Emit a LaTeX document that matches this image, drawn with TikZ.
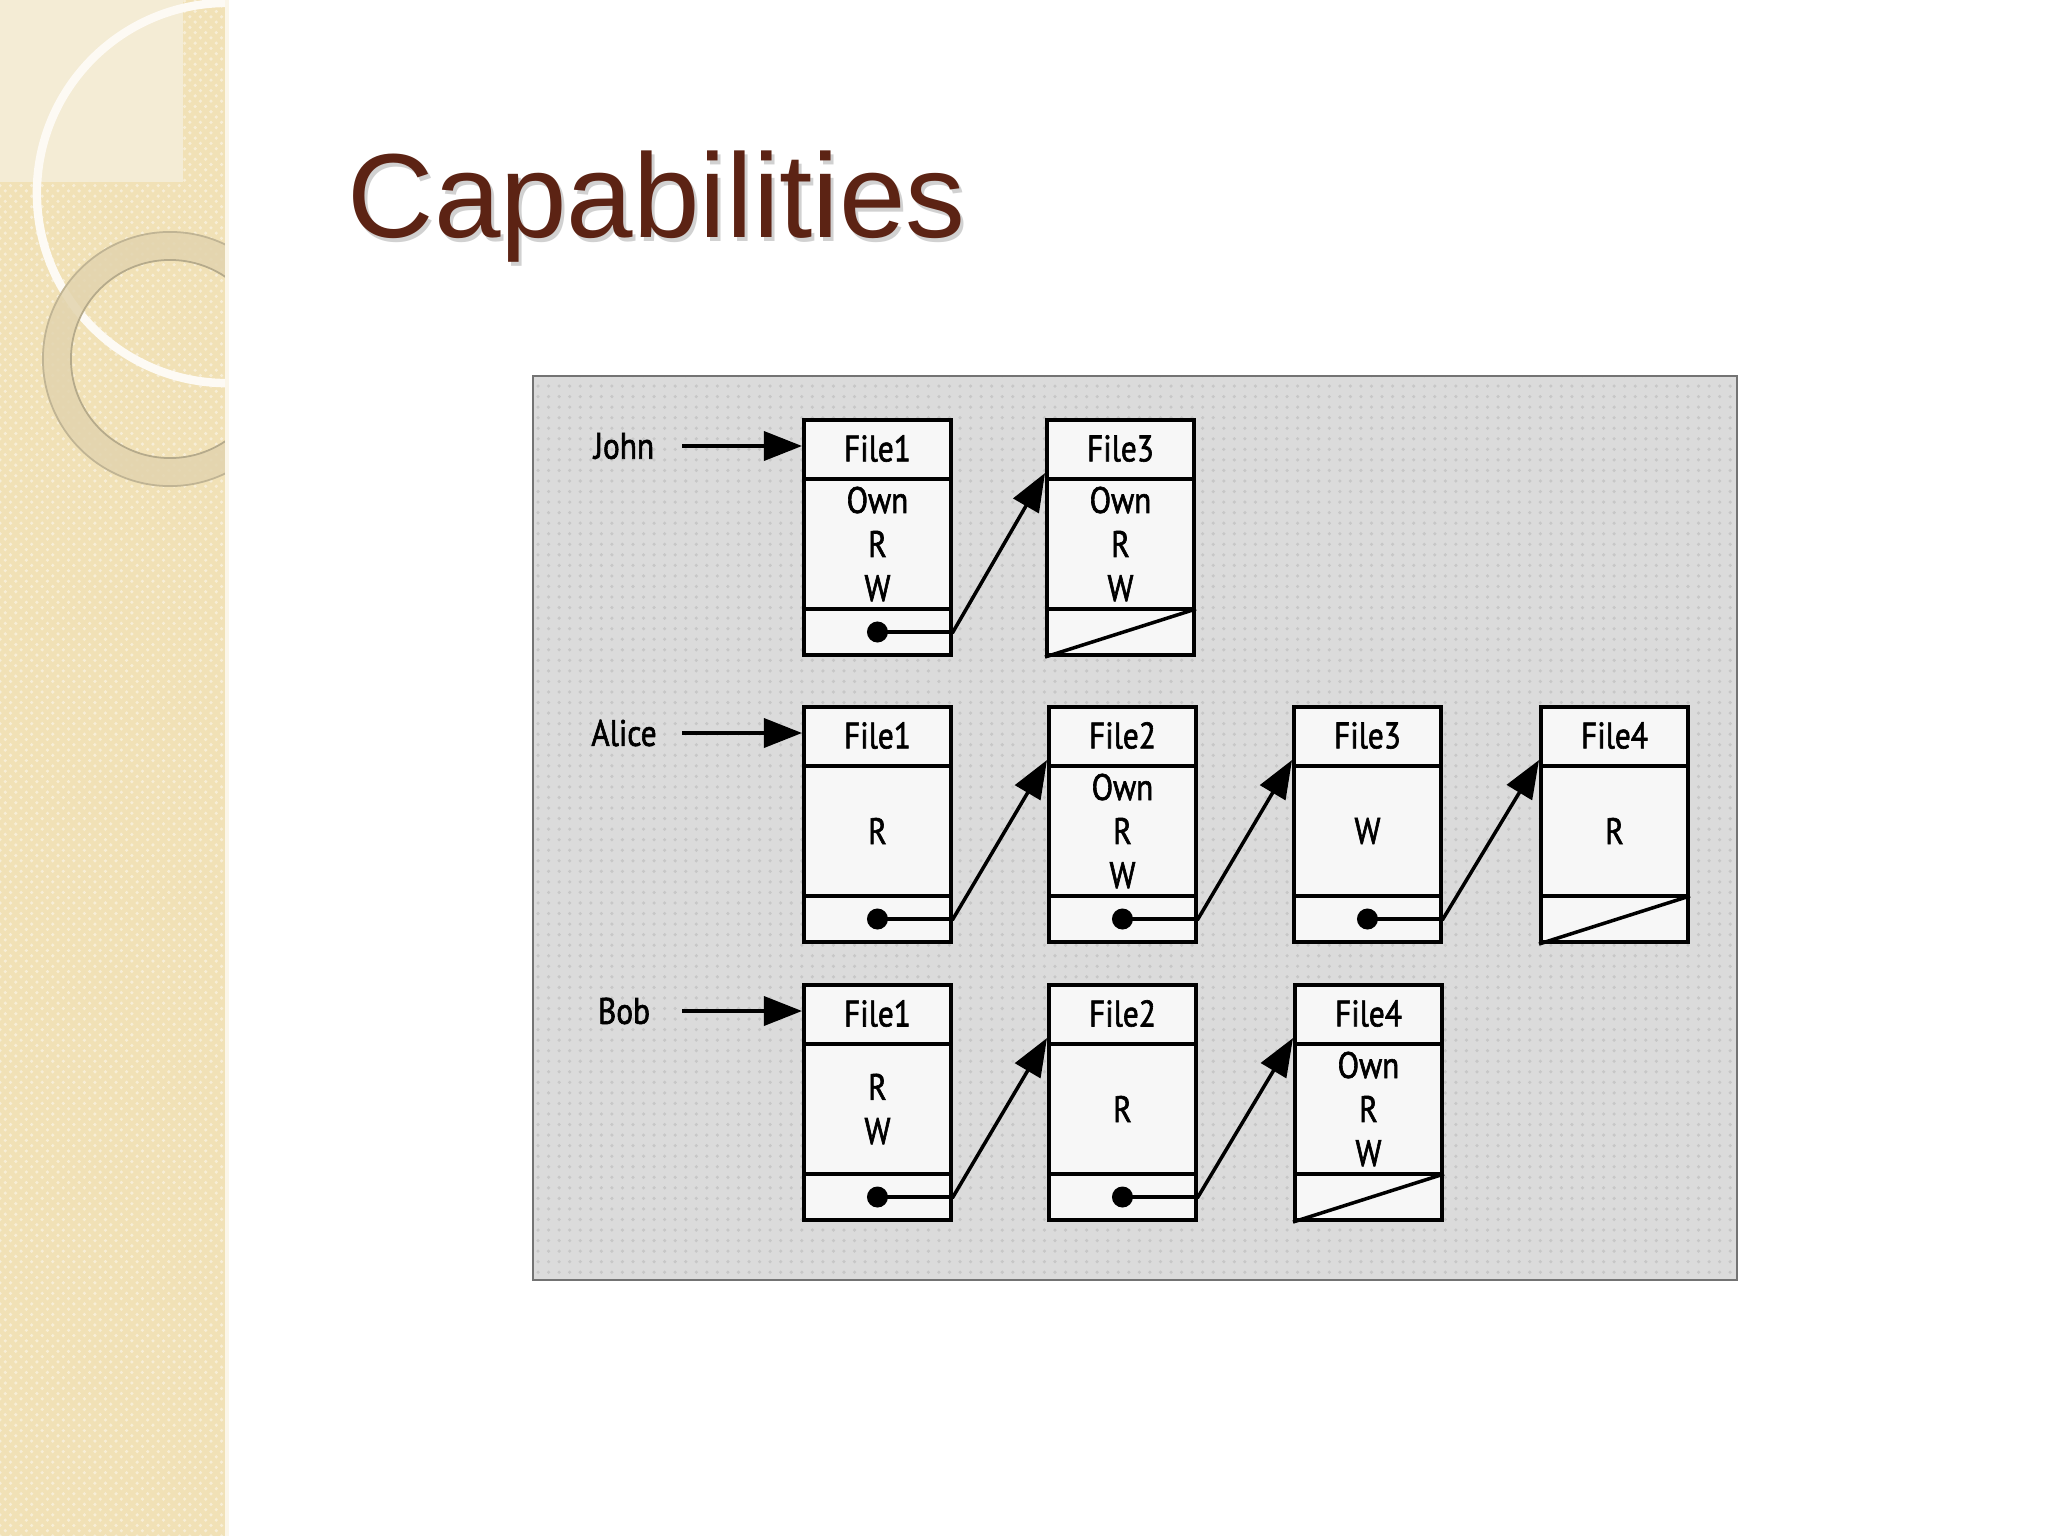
\documentclass[tikz,border=0pt]{standalone}
\usepackage{fontspec}
\usepackage{tikz}
\usetikzlibrary{arrows.meta}
\usetikzlibrary{positioning}
\usetikzlibrary{patterns}
\usetikzlibrary{calc}
\newfontfamily\scanfont[FakeStretch=0.85,FakeBold=1.6]{PT Sans}
\newfontfamily\titlefont{Liberation Sans}
\definecolor{stripbeige}{HTML}{F1E1B6}
\definecolor{stripleaf}{HTML}{F4ECD5}
\definecolor{ringtan}{HTML}{E2D4AE}
\definecolor{titlebrown}{HTML}{5C2314}
\definecolor{scangray}{HTML}{DBDBDB}
\tikzstyle{filebox}=[draw,fill=black!3,line width=1.1pt,minimum width=1.47cm,minimum height=2.35cm,anchor=north west,inner sep=0pt]
\tikzstyle{fieldtext}=[font=\scanfont\fontsize{10.5}{12.5}\selectfont,align=center,inner sep=0pt]
\tikzstyle{owner}=[fieldtext]
\tikzstyle{entry}=[line width=1pt,-{Triangle[length=3.8mm,width=2.9mm]}]
\tikzstyle{ptr}=[line width=1pt,line join=miter,-{Triangle[length=3.8mm,width=2.9mm]}]
\tikzstyle{titletext}=[font=\titlefont\fontsize{34}{40}\selectfont,anchor=base west,inner sep=0pt]

\begin{document}
\begin{tikzpicture}[x=0.01cm,y=-0.01cm]
\useasboundingbox (0,0) rectangle (2048,1536);
\fill[white] (0,0) rectangle (2048,1536);

% left strip of the slide
\fill[stripbeige] (0,0) rectangle (227,1536);
\fill[pattern=crosshatch dots,pattern color=stripbeige!55!white] (0,0) rectangle (227,1536);
\fill[stripleaf] (0,0) rectangle (183,182);
\begin{scope}
\clip (0,0) rectangle (227,1536);
\draw[stripbeige!85!black,line width=0.6pt] (227,193) circle[radius=1.915cm];
\draw[white!85!stripbeige,line width=2.4pt] (227,193) circle[radius=1.9cm];
\draw[ringtan,opacity=0.85,line width=0.28cm] (170,359) circle[radius=1.13cm];
\draw[ringtan!80!black,line width=0.5pt] (170,359) circle[radius=0.99cm];
\draw[ringtan!85!black,line width=0.5pt] (170,359) circle[radius=1.27cm];
\end{scope}
\draw[white!70!stripbeige,line width=1.2pt] (227,0) -- (227,1536);

% title
\node[titletext,text=black!18] (title shadow) at (350,241) {Capabilities};
\node[titletext,text=titlebrown] (title) at (347,237) {Capabilities};

% scanned figure
\fill[scangray] (533,376) rectangle (1737,1280);
\fill[pattern=dots,pattern color=black!22] (533,376) rectangle (1737,1280);
\draw[black!55,line width=0.7pt] (533,376) rectangle (1737,1280);

\foreach \n/\x/\y/\t/\b in {j1/802/418/File1/{Own\\R\\W}, j3/1045/418/File3/{Own\\R\\W},
  a1/802/705/File1/R, a2/1047/705/File2/{Own\\R\\W}, a3/1292/705/File3/W, a4/1539/705/File4/R,
  b1/802/983/File1/{R\\W}, b2/1047/983/File2/R, b4/1293/983/File4/{Own\\R\\W}}
{
  \node[filebox] (\n) at (\x,\y) {};
  \draw[line width=1pt] ([yshift=-0.61cm]\n.north west) -- ([yshift=-0.61cm]\n.north east);
  \draw[line width=1pt] ([yshift=0.48cm]\n.south west) -- ([yshift=0.48cm]\n.south east);
  \node[fieldtext] (\n title) at ([yshift=-0.305cm]\n.north) {\t};
  \node[fieldtext] (\n body) at ([yshift=-0.065cm]\n.center) {\b};
}

% pointers to the next capability
\foreach \a/\b in {j1/j3, a1/a2, a2/a3, a3/a4, b1/b2, b2/b4}
{
  \coordinate (\a dot) at ([yshift=0.25cm]\a.south);
  \fill (\a dot) circle[radius=0.105cm];
  \draw[ptr] (\a dot) -- (\a dot -| \a.east) -- ([yshift=-0.55cm]\b.north west);
}
% end of list
\foreach \n in {j3, a4, b4}
  \draw[line width=1pt] (\n.south west) -- ([yshift=0.48cm]\n.south east);

\node[owner] (john) at (624,446) {John};
\node[owner] (alice) at (624,733) {Alice};
\node[owner] (bob) at (624,1011) {Bob};
\foreach \o/\n in {john/j1, alice/a1, bob/b1}
  \draw[entry] ([xshift=0.58cm]\o.center) -- (\o -| \n.west);
\end{tikzpicture}
\end{document}
